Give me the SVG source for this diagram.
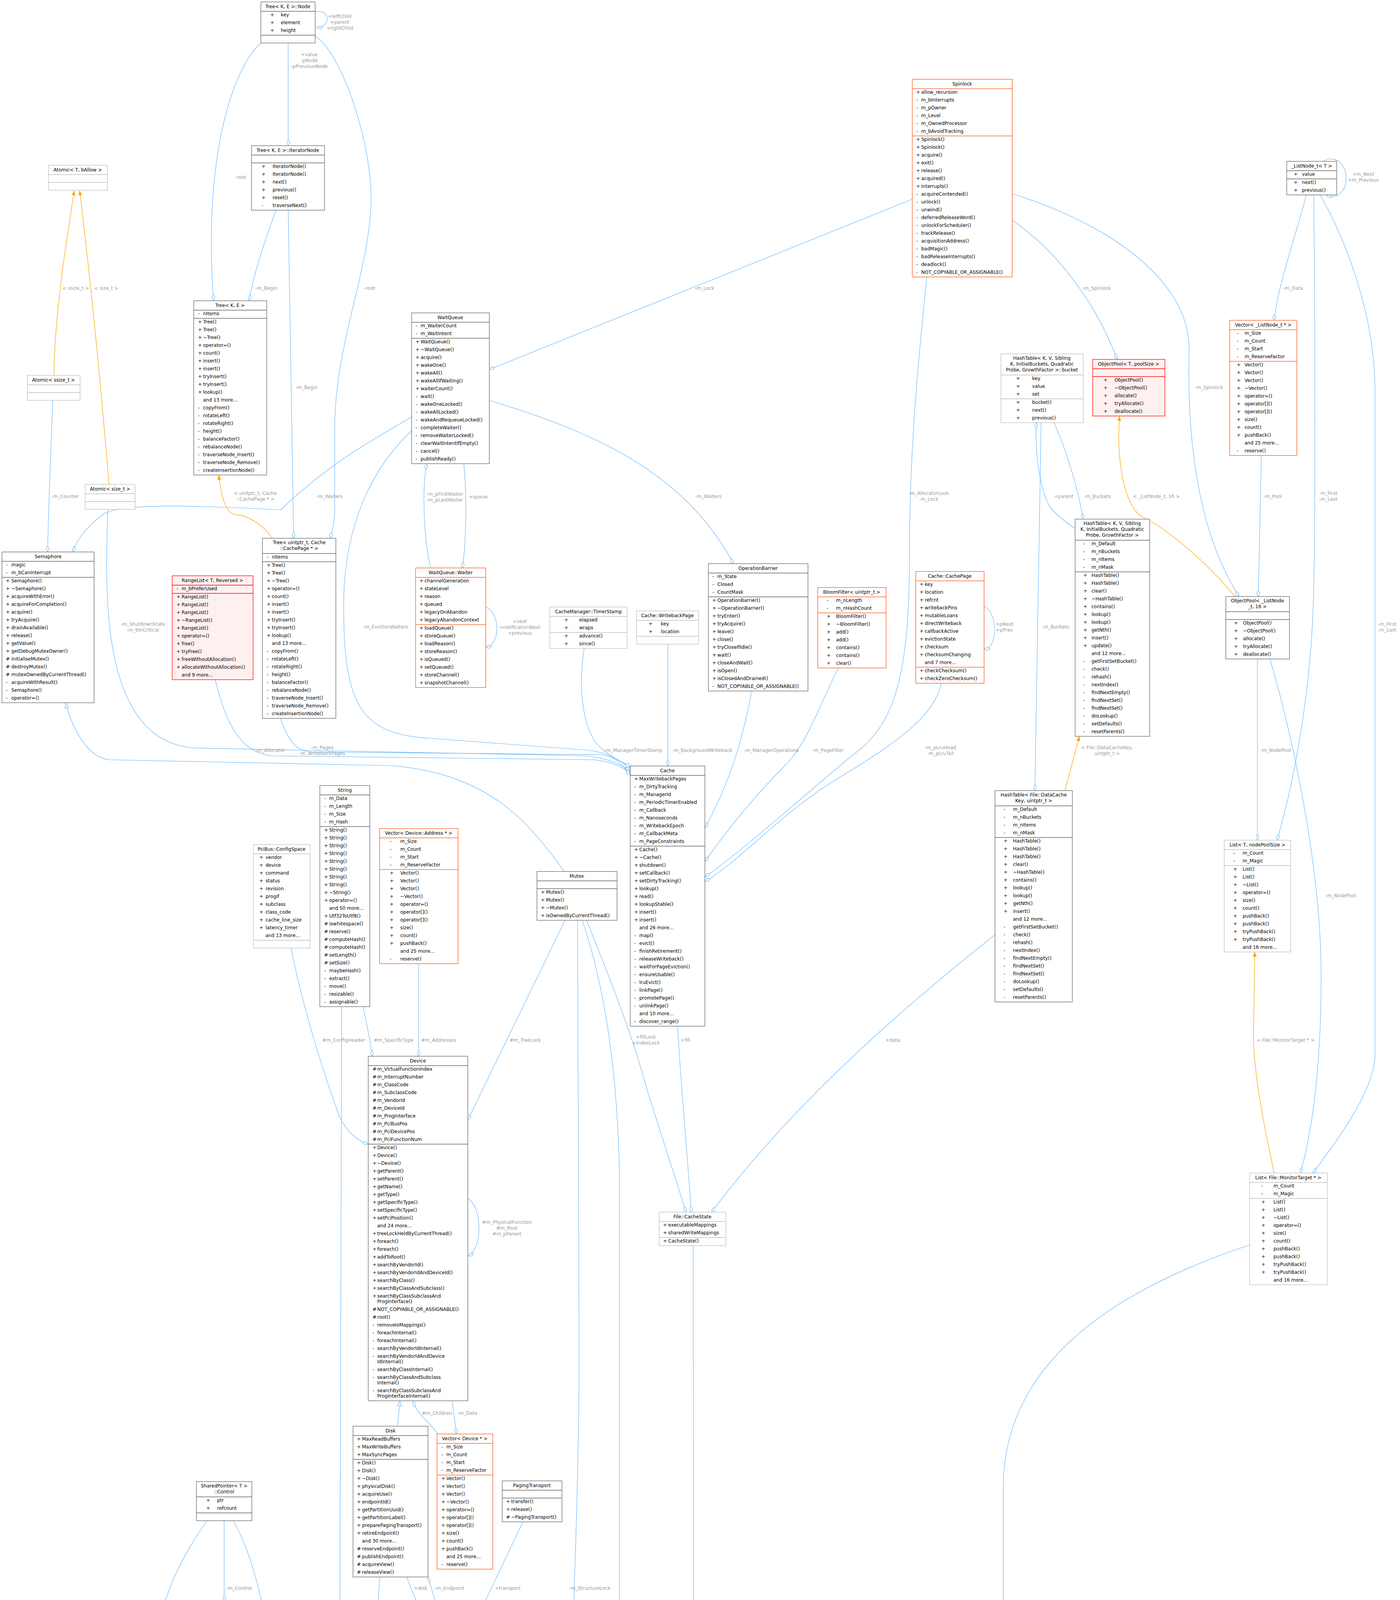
<svg xmlns="http://www.w3.org/2000/svg" width="3585" height="6939" viewBox="0 0 3585 6939">
<style>
text{font-family:"DejaVu Sans","Liberation Sans",sans-serif;font-size:12px;fill:#000}
.h{text-anchor:middle}
.l{text-anchor:middle;fill:#9a9a9a}
.bd{fill:#fff;stroke:#666;stroke-width:1.3}
.bl{fill:#fff;stroke:#bfbfbf;stroke-width:1.3}
.bo{fill:#fff;stroke:#ff6a33;stroke-width:1.5}
.br{fill:#fff0f0;stroke:#ff0000;stroke-width:1.3}
.bt{fill:#999;stroke:#666;stroke-width:1.3}
.e{fill:none;stroke:#63b8ff;stroke-width:1.2;marker-end:url(#dia)}
.i{fill:none;stroke:#63b8ff;stroke-width:1.2;marker-end:url(#otri)}
.o{fill:none;stroke:#ffa500;stroke-width:1.3;marker-end:url(#tri)}
</style>
<defs>
<marker id="dia" viewBox="0 0 16 9" refX="16" refY="4.5" markerWidth="16" markerHeight="9" markerUnits="userSpaceOnUse" orient="auto"><path d="M0.5,4.5 L8,0.5 L15.5,4.5 L8,8.5 Z" fill="#fff" stroke="#63b8ff" stroke-width="1.2"/></marker>
<marker id="tri" viewBox="0 0 12 10" refX="12" refY="5" markerWidth="12" markerHeight="10" markerUnits="userSpaceOnUse" orient="auto"><path d="M0,0 L12,5 L0,10 Z" fill="#ffa500"/></marker>
<marker id="otri" viewBox="0 0 14 12" refX="13" refY="6" markerWidth="14" markerHeight="12" markerUnits="userSpaceOnUse" orient="auto"><path d="M1,1 L13,6 L1,11 Z" fill="#fff" stroke="#63b8ff" stroke-width="1.2"/></marker>
</defs>
<rect width="3585" height="6939" fill="#fff"/>
<g id="edges">
<path class="e" d="M807,30 C845,22 850,68 811,71"/>
<path class="e" d="M738,110 L738,373"/>
<path class="e" d="M668,110 C590,180 520,420 547,770"/>
<path class="e" d="M707,538 C680,610 650,700 638,770"/>
<path class="e" d="M807,92 C880,140 955,380 950,520 C945,700 857,880 857,1100 L857,1300 C857,1340 850,1360 846,1378"/>
<path class="e" d="M738,538 L752,1378"/>
<path class="o" d="M138,961 C140,800 170,620 190,488"/>
<path class="o" d="M279,1240 C260,1000 230,700 204,488"/>
<path class="o" d="M697,1378 C680,1350 640,1320 605,1318 C575,1315 565,1260 560,1216"/>
<path class="e" d="M135,1025 C130,1150 124,1300 122,1413"/>
<path class="e" d="M1054,1067 C950,1130 850,1180 719,1305 C600,1300 300,1280 260,1320 C220,1350 195,1385 187,1413"/>
<path class="e" d="M276,1304 C270,1500 250,1900 500,1915 L1500,1935 C1560,1940 1590,1960 1614,1972"/>
<path class="e" d="M2336,510 L1253,946"/>
<path class="e" d="M1253,1025 C1500,1100 1750,1200 1878,1443"/>
<path class="e" d="M1103,1454 C1085,1380 1080,1250 1093,1187"/>
<path class="e" d="M1188,1187 C1195,1270 1195,1380 1184,1454"/>
<path class="e" d="M1244,1554 C1282,1570 1282,1650 1244,1657"/>
<path class="e" d="M1054,1103 C950,1200 880,1350 880,1550 C880,1800 920,1880 1100,1890 L1500,1920 C1560,1925 1590,1950 1614,1966"/>
<path class="e" d="M551,1740 C580,1860 620,1930 700,1935 L1520,1945 C1570,1950 1595,1965 1614,1978"/>
<path class="e" d="M718,1839 C740,1900 760,1925 800,1925 L1540,1932 C1585,1937 1600,1970 1614,1984"/>
<path class="i" d="M1445,2231 C1350,2100 1250,1980 1000,1960 L280,1945 C230,1940 190,1880 168,1800"/>
<path class="e" d="M1496,1660 C1480,1760 1490,1880 1545,1920 C1570,1940 1600,1955 1614,1962"/>
<path class="e" d="M1710,1649 L1710,1961"/>
<path class="e" d="M1925,1769 C1900,1900 1870,2000 1805,2120"/>
<path class="e" d="M2147,1710 C2100,1800 2070,1900 2010,1960 C1950,2020 1880,2100 1805,2205"/>
<path class="e" d="M2373,709 C2360,850 2330,1100 2329,1400 C2330,1700 2300,1840 2200,1920 C2100,2000 1900,2180 1805,2245"/>
<path class="e" d="M2410,1749 C2395,1830 2300,1900 2150,1990 C2000,2080 1900,2200 1805,2257"/>
<path class="e" d="M2520,1552 C2556,1570 2556,1660 2520,1662"/>
<path class="e" d="M1447,2356 L1198,2867"/>
<path class="e" d="M745,2427 C780,2600 840,2780 870,2860 C890,2900 915,2920 943,2929"/>
<path class="e" d="M930,2577 C940,2630 950,2670 953,2704"/>
<path class="e" d="M1072,2467 L1072,2704"/>
<path class="e" d="M875,2577 L867,5200 C867,5400 1000,5650 1213,5895"/>
<path class="e" d="M1198,3068 C1236,3090 1236,3200 1198,3215"/>
<path class="i" d="M1018,3651 L1024,3587"/>
<path class="e" d="M1121,3671 C1100,3640 1075,3630 1057,3587"/>
<path class="e" d="M1158,3587 L1169,3671"/>
<path class="e" d="M1042,4037 C1060,4090 1085,4140 1110,4182"/>
<path class="e" d="M1132,4162 C1120,4110 1105,4070 1096,4037"/>
<path class="e" d="M1339,3896 L1211,4165"/>
<path class="e" d="M1479,2356 L1483,3500 C1480,4000 1450,4500 1450,4650 C1440,4800 1410,4930 1391,4990"/>
<path class="e" d="M1491,2356 C1540,2500 1580,2700 1586,3000 L1586,5209 C1580,5400 1510,5600 1426,5797"/>
<path class="e" d="M1502,2356 C1560,2500 1620,2650 1660,2800 L1757,3103"/>
<path class="e" d="M1735,2627 C1745,2800 1760,2950 1770,3103"/>
<path class="e" d="M2548,2393 C2350,2550 2050,2800 1822,3103"/>
<path class="e" d="M1775,3189 L1778,5209 C1770,5450 1600,5700 1426,5891"/>
<path class="e" d="M973,4037 C962,4150 950,4500 1000,4700 C1060,4900 1150,5000 1247,5124"/>
<path class="e" d="M1173,4387 C1175,4450 1170,4500 1165,4544"/>
<path class="e" d="M1103,4544 C1100,4480 1110,4430 1121,4387"/>
<path class="e" d="M1211,4356 C1250,4420 1280,4500 1294,4574"/>
<path class="e" d="M1319,4799 L1319,4929"/>
<path class="e" d="M1319,5455 L1319,5517"/>
<path class="e" d="M574,3893 L574,4099"/>
<path class="e" d="M530,3893 C470,3980 395,4100 390,4300 C388,4420 390,4480 393,4507"/>
<path class="e" d="M597,3893 C660,4000 700,4200 725,4507"/>
<path class="o" d="M412,4507 C430,4460 470,4440 503,4402"/>
<path class="o" d="M633,4563 C610,4530 595,4490 586,4444"/>
<path class="e" d="M451,4867 L480,5089"/>
<path class="e" d="M724,4867 L726,5049"/>
<path class="i" d="M1213,5944 C1000,5750 800,5650 650,5500 C600,5440 560,5370 537,5294"/>
<path class="i" d="M1213,5912 C1100,5800 950,5650 880,5500 C840,5430 800,5380 777,5334"/>
<path class="e" d="M1426,5924 C1464,5950 1464,6070 1426,6091"/>
<path class="e" d="M3200,3187 C2800,3320 2569,3520 2569,3809 L2569,5202 C2569,5600 2100,5850 1426,5989"/>
<path class="e" d="M1319,6503 L1319,6595"/>
<path class="e" d="M1308,6681 C1300,6720 1310,6760 1323,6773"/>
<path class="e" d="M1411,6773 C1400,6740 1385,6710 1363,6681"/>
<path class="o" d="M1465,6773 L1490,6711"/>
<path class="e" d="M2753,1353 C2720,1330 2700,1312 2690,1300 C2660,1250 2650,1150 2654,1082"/>
<path class="e" d="M2699,1082 C2730,1150 2760,1250 2774,1329"/>
<path class="e" d="M2666,1082 L2650,2024"/>
<path class="o" d="M2727,2024 L2764,1885"/>
<path class="o" d="M3162,1527 C3100,1450 3000,1360 2920,1320 C2870,1280 2860,1150 2867,1065"/>
<path class="e" d="M2592,563 C2700,640 2800,760 2861,920"/>
<path class="e" d="M2592,496 C2800,560 3050,700 3045,900 C3040,1100 3060,1350 3173,1527"/>
<path class="e" d="M3345,499 C3320,600 3280,700 3262,820"/>
<path class="e" d="M3230,1166 L3222,1527"/>
<path class="e" d="M3220,1687 L3220,2151"/>
<path class="e" d="M3252,1687 C3300,1850 3383,2200 3383,2500 C3383,2800 3345,2950 3330,3003"/>
<path class="e" d="M3364,499 C3368,800 3368,1400 3364,1500 C3360,1800 3300,2050 3270,2151"/>
<path class="e" d="M3380,499 C3440,600 3521,800 3521,1000 L3521,2700 C3521,2800 3400,2950 3362,3003"/>
<path class="o" d="M3263,3003 C3240,2900 3210,2750 3210,2650 L3213,2437"/>
<path class="e" d="M3387,413 C3420,395 3447,420 3447,455 C3447,495 3420,510 3397,499"/>
</g>
<g id="labels">
<text class="l" x="870" y="46">+leftChild<tspan x="870" dy="15">+parent</tspan><tspan x="870" dy="15">+rightChild</tspan></text>
<text class="l" x="792" y="144">+value<tspan x="792" dy="15">-pNode</tspan><tspan x="792" dy="15">-pPreviousNode</tspan></text>
<text class="l" x="616" y="458">-root</text>
<text class="l" x="946" y="742">-root</text>
<text class="l" x="682" y="742">-m_Begin</text>
<text class="l" x="785" y="996">-m_Begin</text>
<text class="l" x="194" y="742">&lt; ssize_t &gt;</text>
<text class="l" x="272" y="742">&lt; size_t &gt;</text>
<text class="l" x="654" y="1267">&lt; uintptr_t, Cache<tspan x="654" dy="15">::CachePage * &gt;</tspan></text>
<text class="l" x="167" y="1275">-m_Counter</text>
<text class="l" x="844" y="1275">-m_Waiters</text>
<text class="l" x="1804" y="742">-m_Lock</text>
<text class="l" x="1814" y="1275">-m_Waiters</text>
<text class="l" x="1139" y="1269">-m_pFirstWaiter<tspan x="1139" dy="15">-m_pLastWaiter</tspan></text>
<text class="l" x="1225" y="1276">+queue</text>
<text class="l" x="1331" y="1595">+next<tspan x="1331" dy="15">+notificationNext</tspan><tspan x="1331" dy="15">+previous</tspan></text>
<text class="l" x="2378" y="1267">-m_AllocatorLock<tspan x="2378" dy="15">-m_Lock</tspan></text>
<text class="l" x="2808" y="742">-m_Spinlock</text>
<text class="l" x="3096" y="996">-m_Spinlock</text>
<text class="l" x="3311" y="742">-m_Data</text>
<text class="l" x="3491" y="450">+m_Next<tspan x="3491" dy="15">+m_Previous</tspan></text>
<text class="l" x="2724" y="1275">+parent</text>
<text class="l" x="2810" y="1275">-m_Buckets</text>
<text class="l" x="2961" y="1275">&lt; _ListNode_t, 16 &gt;</text>
<text class="l" x="3259" y="1275">-m_Pool</text>
<text class="l" x="3401" y="1267">-m_First<tspan x="3401" dy="15">-m_Last</tspan></text>
<text class="l" x="366" y="1602">-m_ShutdownState<tspan x="366" dy="15">-m_bInCritical</tspan></text>
<text class="l" x="987" y="1609">-m_EvictionWaiters</text>
<text class="l" x="692" y="1925">-m_Allocator</text>
<text class="l" x="825" y="1918">-m_Pages<tspan x="825" dy="15">-m_WritebackPages</tspan></text>
<text class="l" x="1622" y="1925">-m_ManagerTimerStamp</text>
<text class="l" x="1798" y="1925">-m_BackgroundWriteback</text>
<text class="l" x="1975" y="1925">-m_ManagerOperations</text>
<text class="l" x="2120" y="1925">-m_PageFilter</text>
<text class="l" x="2408" y="1918">-m_pLruHead<tspan x="2408" dy="15">-m_pLruTail</tspan></text>
<text class="l" x="2572" y="1602">+pNext<tspan x="2572" dy="15">+pPrev</tspan></text>
<text class="l" x="2703" y="1609">-m_Buckets</text>
<text class="l" x="2835" y="1918">&lt; File::DataCacheKey,<tspan x="2835" dy="15">uintptr_t &gt;</tspan></text>
<text class="l" x="3267" y="1925">-m_NodePool</text>
<text class="l" x="3433" y="2297">-m_NodePool</text>
<text class="l" x="3552" y="1602">-m_First<tspan x="3552" dy="15">-m_Last</tspan></text>
<text class="l" x="3292" y="2667">&lt; File::MonitorTarget * &gt;</text>
<text class="l" x="1345" y="2667">#m_TreeLock</text>
<text class="l" x="1654" y="2659">+fillLock<tspan x="1654" dy="15">+indexLock</tspan></text>
<text class="l" x="1755" y="2667">+fill</text>
<text class="l" x="2286" y="2667">+data</text>
<text class="l" x="880" y="2667">#m_ConfigHeader</text>
<text class="l" x="1008" y="2667">#m_SpecificType</text>
<text class="l" x="1123" y="2667">#m_Addresses</text>
<text class="l" x="1298" y="3133">#m_PhysicalFunction<tspan x="1298" dy="15">#m_Root</tspan><tspan x="1298" dy="15">#m_pParent</tspan></text>
<text class="l" x="1119" y="3622">#m_Children</text>
<text class="l" x="1197" y="3622">-m_Data</text>
<text class="l" x="1077" y="4070">+disk</text>
<text class="l" x="1151" y="4070">-m_Endpoint</text>
<text class="l" x="1300" y="4070">+transport</text>
<text class="l" x="1510" y="4070">-m_StructureLock</text>
<text class="l" x="612" y="4070">-m_Control</text>
<text class="l" x="451" y="4274">-m_Control</text>
<text class="l" x="761" y="4274">-m_Control</text>
<text class="l" x="907" y="4274">#m_Name</text>
<text class="l" x="1666" y="4252">#m_DataMutationLock<tspan x="1666" dy="15">#m_Lock</tspan><tspan x="1666" dy="15">#m_MetadataLock</tspan><tspan x="1666" dy="15">#m_WriteLock</tspan></text>
<text class="l" x="496" y="4477">&lt; ReadinessState &gt;</text>
<text class="l" x="660" y="4477">&lt; FileEventState &gt;</text>
<text class="l" x="1005" y="4477">#m_pDisk</text>
<text class="l" x="1140" y="4477">+channel</text>
<text class="l" x="1222" y="4477">-m_Endpoint</text>
<text class="l" x="1315" y="4477">-m_Endpoint</text>
<text class="l" x="1836" y="4478">#m_CacheState</text>
<text class="l" x="2632" y="4478">#m_MonitorTargets</text>
<text class="l" x="523" y="4900">-m_ReadinessState</text>
<text class="l" x="788" y="4900">-m_FileEventState</text>
<text class="l" x="1365" y="4900">#m_DiskUse</text>
<text class="l" x="1378" y="5488">#m_pFilesystem</text>
<text class="l" x="1525" y="6004">#m_pDetachedParent<tspan x="1525" dy="15">#m_pParent</tspan></text>
<text class="l" x="1338" y="6536">+file</text>
<text class="l" x="1354" y="6744">-m_Pointer</text>
<text class="l" x="1426" y="6744">+next</text>
<text class="l" x="1551" y="6744">&lt; VFS::TrackedFile &gt;</text>
</g>
<g id="n-tree-node"><rect class="bd" x="668" y="5" width="139" height="105"/><path class="bd" d="M668,29H807M668,90H807"/><text class="h" x="737" y="21">Tree&lt; K, E &gt;::Node</text>
<text><tspan x="692" y="42">+</tspan><tspan x="719">key</tspan><tspan x="692" y="62">+</tspan><tspan x="719">element</tspan><tspan x="692" y="82">+</tspan><tspan x="719">height</tspan></text></g>
<g id="n-tree-iter"><rect class="bd" x="644" y="373" width="187" height="165"/><path class="bd" d="M644,397H831M644,417H831"/><text class="h" x="737" y="389">Tree&lt; K, E &gt;::IteratorNode</text>
<text><tspan x="670" y="430">+</tspan><tspan x="698">IteratorNode()</tspan><tspan x="670" y="450">+</tspan><tspan x="698">IteratorNode()</tspan><tspan x="670" y="470">+</tspan><tspan x="698">next()</tspan><tspan x="670" y="490">+</tspan><tspan x="698">previous()</tspan><tspan x="670" y="510">+</tspan><tspan x="698">reset()</tspan><tspan x="670" y="530">-</tspan><tspan x="698">traverseNext()</tspan></text></g>
<g id="n-atomic"><rect class="bl" x="124" y="423" width="151" height="64"/><path class="bl" d="M124,447H275M124,467H275"/><text class="h" x="199" y="439">Atomic&lt; T, bAllow &gt;</text></g>
<g id="n-atomic-ssize"><rect class="bl" x="70" y="961" width="135" height="64"/><path class="bl" d="M70,985H205M70,1005H205"/><text class="h" x="137" y="977">Atomic&lt; ssize_t &gt;</text></g>
<g id="n-atomic-size"><rect class="bl" x="218" y="1240" width="128" height="64"/><path class="bl" d="M218,1264H346M218,1284H346"/><text class="h" x="282" y="1256">Atomic&lt; size_t &gt;</text></g>
<g id="n-tree"><rect class="bd" x="496" y="770" width="187" height="446"/><path class="bd" d="M496,794H683M496,815H683"/><text class="h" x="589" y="786">Tree&lt; K, E &gt;</text>
<text><tspan x="507" y="807">-</tspan><tspan x="520">nItems</tspan><tspan x="507" y="828">+</tspan><tspan x="520">Tree()</tspan><tspan x="507" y="848">+</tspan><tspan x="520">Tree()</tspan><tspan x="507" y="868">+</tspan><tspan x="520">~Tree()</tspan><tspan x="507" y="888">+</tspan><tspan x="520">operator=()</tspan><tspan x="507" y="908">+</tspan><tspan x="520">count()</tspan><tspan x="507" y="928">+</tspan><tspan x="520">insert()</tspan><tspan x="507" y="948">+</tspan><tspan x="520">insert()</tspan><tspan x="507" y="968">+</tspan><tspan x="520">tryInsert()</tspan><tspan x="507" y="988">+</tspan><tspan x="520">tryInsert()</tspan><tspan x="507" y="1008">+</tspan><tspan x="520">lookup()</tspan><tspan x="520" y="1028">and 13 more...</tspan><tspan x="507" y="1048">-</tspan><tspan x="520">copyFrom()</tspan><tspan x="507" y="1068">-</tspan><tspan x="520">rotateLeft()</tspan><tspan x="507" y="1088">-</tspan><tspan x="520">rotateRight()</tspan><tspan x="507" y="1108">-</tspan><tspan x="520">height()</tspan><tspan x="507" y="1128">-</tspan><tspan x="520">balanceFactor()</tspan><tspan x="507" y="1148">-</tspan><tspan x="520">rebalanceNode()</tspan><tspan x="507" y="1168">-</tspan><tspan x="520">traverseNode_Insert()</tspan><tspan x="507" y="1188">-</tspan><tspan x="520">traverseNode_Remove()</tspan><tspan x="507" y="1208">-</tspan><tspan x="520">createInsertionNode()</tspan></text></g>
<g id="n-tree-cache"><rect class="bd" x="672" y="1378" width="188" height="461"/><path class="bd" d="M672,1417H860M672,1438H860"/><text class="h" x="766" y="1393">Tree&lt; uintptr_t, Cache<tspan x="766" dy="15">::CachePage * &gt;</tspan></text>
<text><tspan x="683" y="1430">-</tspan><tspan x="696">nItems</tspan><tspan x="683" y="1451">+</tspan><tspan x="696">Tree()</tspan><tspan x="683" y="1471">+</tspan><tspan x="696">Tree()</tspan><tspan x="683" y="1491">+</tspan><tspan x="696">~Tree()</tspan><tspan x="683" y="1511">+</tspan><tspan x="696">operator=()</tspan><tspan x="683" y="1531">+</tspan><tspan x="696">count()</tspan><tspan x="683" y="1551">+</tspan><tspan x="696">insert()</tspan><tspan x="683" y="1571">+</tspan><tspan x="696">insert()</tspan><tspan x="683" y="1591">+</tspan><tspan x="696">tryInsert()</tspan><tspan x="683" y="1611">+</tspan><tspan x="696">tryInsert()</tspan><tspan x="683" y="1631">+</tspan><tspan x="696">lookup()</tspan><tspan x="696" y="1651">and 13 more...</tspan><tspan x="683" y="1671">-</tspan><tspan x="696">copyFrom()</tspan><tspan x="683" y="1691">-</tspan><tspan x="696">rotateLeft()</tspan><tspan x="683" y="1711">-</tspan><tspan x="696">rotateRight()</tspan><tspan x="683" y="1731">-</tspan><tspan x="696">height()</tspan><tspan x="683" y="1751">-</tspan><tspan x="696">balanceFactor()</tspan><tspan x="683" y="1771">-</tspan><tspan x="696">rebalanceNode()</tspan><tspan x="683" y="1791">-</tspan><tspan x="696">traverseNode_Insert()</tspan><tspan x="683" y="1811">-</tspan><tspan x="696">traverseNode_Remove()</tspan><tspan x="683" y="1831">-</tspan><tspan x="696">createInsertionNode()</tspan></text></g>
<g id="n-waitqueue"><rect class="bd" x="1054" y="801" width="199" height="386"/><path class="bd" d="M1054,825H1253M1054,866H1253"/><text class="h" x="1153" y="817">WaitQueue</text>
<text><tspan x="1064" y="838">-</tspan><tspan x="1077">m_WaiterCount</tspan><tspan x="1064" y="858">-</tspan><tspan x="1077">m_WaitIntent</tspan><tspan x="1064" y="879">+</tspan><tspan x="1077">WaitQueue()</tspan><tspan x="1064" y="899">+</tspan><tspan x="1077">~WaitQueue()</tspan><tspan x="1064" y="919">+</tspan><tspan x="1077">acquire()</tspan><tspan x="1064" y="939">+</tspan><tspan x="1077">wakeOne()</tspan><tspan x="1064" y="959">+</tspan><tspan x="1077">wakeAll()</tspan><tspan x="1064" y="979">+</tspan><tspan x="1077">wakeAllIfWaiting()</tspan><tspan x="1064" y="999">+</tspan><tspan x="1077">waiterCount()</tspan><tspan x="1064" y="1019">-</tspan><tspan x="1077">wait()</tspan><tspan x="1064" y="1039">-</tspan><tspan x="1077">wakeOneLocked()</tspan><tspan x="1064" y="1059">-</tspan><tspan x="1077">wakeAllLocked()</tspan><tspan x="1064" y="1079">-</tspan><tspan x="1077">wakeAndRequeueLocked()</tspan><tspan x="1064" y="1099">-</tspan><tspan x="1077">completeWaiter()</tspan><tspan x="1064" y="1119">-</tspan><tspan x="1077">removeWaiterLocked()</tspan><tspan x="1064" y="1139">-</tspan><tspan x="1077">clearWaitIntentIfEmpty()</tspan><tspan x="1064" y="1159">-</tspan><tspan x="1077">cancel()</tspan><tspan x="1064" y="1179">-</tspan><tspan x="1077">publishReady()</tspan></text></g>
<g id="n-spinlock"><rect class="bo" x="2336" y="203" width="256" height="506"/><path class="bo" d="M2336,227H2592M2336,348H2592"/><text class="h" x="2464" y="219">Spinlock</text>
<text><tspan x="2346" y="240">+</tspan><tspan x="2359">allow_recursion</tspan><tspan x="2346" y="260">-</tspan><tspan x="2359">m_bInterrupts</tspan><tspan x="2346" y="280">-</tspan><tspan x="2359">m_pOwner</tspan><tspan x="2346" y="300">-</tspan><tspan x="2359">m_Level</tspan><tspan x="2346" y="320">-</tspan><tspan x="2359">m_OwnedProcessor</tspan><tspan x="2346" y="340">-</tspan><tspan x="2359">m_bAvoidTracking</tspan><tspan x="2346" y="361">+</tspan><tspan x="2359">Spinlock()</tspan><tspan x="2346" y="381">+</tspan><tspan x="2359">Spinlock()</tspan><tspan x="2346" y="401">+</tspan><tspan x="2359">acquire()</tspan><tspan x="2346" y="421">+</tspan><tspan x="2359">exit()</tspan><tspan x="2346" y="441">+</tspan><tspan x="2359">release()</tspan><tspan x="2346" y="461">+</tspan><tspan x="2359">acquired()</tspan><tspan x="2346" y="481">+</tspan><tspan x="2359">interrupts()</tspan><tspan x="2346" y="501">-</tspan><tspan x="2359">acquireContended()</tspan><tspan x="2346" y="521">-</tspan><tspan x="2359">unlock()</tspan><tspan x="2346" y="541">-</tspan><tspan x="2359">unwind()</tspan><tspan x="2346" y="561">-</tspan><tspan x="2359">deferredReleaseWord()</tspan><tspan x="2346" y="581">-</tspan><tspan x="2359">unlockForScheduler()</tspan><tspan x="2346" y="601">-</tspan><tspan x="2359">trackRelease()</tspan><tspan x="2346" y="621">-</tspan><tspan x="2359">acquisitionAddress()</tspan><tspan x="2346" y="641">-</tspan><tspan x="2359">badMagic()</tspan><tspan x="2346" y="661">-</tspan><tspan x="2359">badReleaseInterrupts()</tspan><tspan x="2346" y="681">-</tspan><tspan x="2359">deadlock()</tspan><tspan x="2346" y="701">-</tspan><tspan x="2359">NOT_COPYABLE_OR_ASSIGNABLE()</tspan></text></g>
<g id="n-listnode"><rect class="bd" x="3295" y="413" width="128" height="86"/><path class="bd" d="M3295,437H3423M3295,458H3423"/><text class="h" x="3359" y="429">_ListNode_t&lt; T &gt;</text>
<text><tspan x="3313" y="450">+</tspan><tspan x="3334">value</tspan><tspan x="3313" y="471">+</tspan><tspan x="3334">next()</tspan><tspan x="3313" y="491">+</tspan><tspan x="3334">previous()</tspan></text></g>
<g id="n-vector-listnode"><rect class="bo" x="3149" y="820" width="172" height="346"/><path class="bo" d="M3149,844H3321M3149,925H3321"/><text class="h" x="3235" y="836">Vector&lt; _ListNode_t * &gt;</text>
<text><tspan x="3167" y="857">-</tspan><tspan x="3187">m_Size</tspan><tspan x="3167" y="877">-</tspan><tspan x="3187">m_Count</tspan><tspan x="3167" y="897">-</tspan><tspan x="3187">m_Start</tspan><tspan x="3167" y="917">-</tspan><tspan x="3187">m_ReserveFactor</tspan><tspan x="3167" y="938">+</tspan><tspan x="3187">Vector()</tspan><tspan x="3167" y="958">+</tspan><tspan x="3187">Vector()</tspan><tspan x="3167" y="978">+</tspan><tspan x="3187">Vector()</tspan><tspan x="3167" y="998">+</tspan><tspan x="3187">~Vector()</tspan><tspan x="3167" y="1018">+</tspan><tspan x="3187">operator=()</tspan><tspan x="3167" y="1038">+</tspan><tspan x="3187">operator[]()</tspan><tspan x="3167" y="1058">+</tspan><tspan x="3187">operator[]()</tspan><tspan x="3167" y="1078">+</tspan><tspan x="3187">size()</tspan><tspan x="3167" y="1098">+</tspan><tspan x="3187">count()</tspan><tspan x="3167" y="1118">+</tspan><tspan x="3187">pushBack()</tspan><tspan x="3187" y="1138">and 25 more...</tspan><tspan x="3167" y="1158">-</tspan><tspan x="3187">reserve()</tspan></text></g>
<g id="n-bucket"><rect class="bl" x="2563" y="906" width="211" height="176"/><path class="bl" d="M2563,960H2774M2563,1021H2774"/><text class="h" x="2668" y="921">HashTable&lt; K, V, Sibling<tspan x="2668" dy="15">K, InitialBuckets, Quadratic</tspan><tspan x="2668" dy="15">Probe, GrowthFactor &gt;::bucket</tspan></text>
<text><tspan x="2602" y="973">+</tspan><tspan x="2643">key</tspan><tspan x="2602" y="993">+</tspan><tspan x="2643">value</tspan><tspan x="2602" y="1013">+</tspan><tspan x="2643">set</tspan><tspan x="2602" y="1034">+</tspan><tspan x="2643">bucket()</tspan><tspan x="2602" y="1054">+</tspan><tspan x="2643">next()</tspan><tspan x="2602" y="1074">+</tspan><tspan x="2643">previous()</tspan></text></g>
<g id="n-objectpool"><rect class="br" x="2798" y="920" width="185" height="145"/><path class="br" d="M2798,944H2983M2798,964H2983"/><text class="h" x="2890" y="936">ObjectPool&lt; T, poolSize &gt;</text>
<text><tspan x="2826" y="977">+</tspan><tspan x="2854">ObjectPool()</tspan><tspan x="2826" y="997">+</tspan><tspan x="2854">~ObjectPool()</tspan><tspan x="2826" y="1017">+</tspan><tspan x="2854">allocate()</tspan><tspan x="2826" y="1037">+</tspan><tspan x="2854">tryAllocate()</tspan><tspan x="2826" y="1057">+</tspan><tspan x="2854">deallocate()</tspan></text></g>
<g id="n-hashtable"><rect class="bd" x="2753" y="1329" width="191" height="556"/><path class="bd" d="M2753,1383H2944M2753,1464H2944"/><text class="h" x="2848" y="1344">HashTable&lt; K, V, Sibling<tspan x="2848" dy="15">K, InitialBuckets, Quadratic</tspan><tspan x="2848" dy="15">Probe, GrowthFactor &gt;</tspan></text>
<text><tspan x="2774" y="1396">-</tspan><tspan x="2795">m_Default</tspan><tspan x="2774" y="1416">-</tspan><tspan x="2795">m_nBuckets</tspan><tspan x="2774" y="1436">-</tspan><tspan x="2795">m_nItems</tspan><tspan x="2774" y="1456">-</tspan><tspan x="2795">m_nMask</tspan><tspan x="2774" y="1477">+</tspan><tspan x="2795">HashTable()</tspan><tspan x="2774" y="1497">+</tspan><tspan x="2795">HashTable()</tspan><tspan x="2774" y="1517">+</tspan><tspan x="2795">clear()</tspan><tspan x="2774" y="1537">+</tspan><tspan x="2795">~HashTable()</tspan><tspan x="2774" y="1557">+</tspan><tspan x="2795">contains()</tspan><tspan x="2774" y="1577">+</tspan><tspan x="2795">lookup()</tspan><tspan x="2774" y="1597">+</tspan><tspan x="2795">lookup()</tspan><tspan x="2774" y="1617">+</tspan><tspan x="2795">getNth()</tspan><tspan x="2774" y="1637">+</tspan><tspan x="2795">insert()</tspan><tspan x="2774" y="1657">+</tspan><tspan x="2795">update()</tspan><tspan x="2795" y="1677">and 12 more...</tspan><tspan x="2774" y="1697">-</tspan><tspan x="2795">getFirstSetBucket()</tspan><tspan x="2774" y="1717">-</tspan><tspan x="2795">check()</tspan><tspan x="2774" y="1737">-</tspan><tspan x="2795">rehash()</tspan><tspan x="2774" y="1757">-</tspan><tspan x="2795">nextIndex()</tspan><tspan x="2774" y="1777">-</tspan><tspan x="2795">findNextEmpty()</tspan><tspan x="2774" y="1797">-</tspan><tspan x="2795">findNextSet()</tspan><tspan x="2774" y="1817">-</tspan><tspan x="2795">findNextSet()</tspan><tspan x="2774" y="1837">-</tspan><tspan x="2795">doLookup()</tspan><tspan x="2774" y="1857">-</tspan><tspan x="2795">setDefaults()</tspan><tspan x="2774" y="1877">-</tspan><tspan x="2795">resetParents()</tspan></text></g>
<g id="n-semaphore"><rect class="bd" x="5" y="1413" width="236" height="386"/><path class="bd" d="M5,1437H241M5,1478H241"/><text class="h" x="123" y="1429">Semaphore</text>
<text><tspan x="15" y="1450">-</tspan><tspan x="29">magic</tspan><tspan x="15" y="1470">-</tspan><tspan x="29">m_bCanInterrupt</tspan><tspan x="15" y="1491">+</tspan><tspan x="29">Semaphore()</tspan><tspan x="15" y="1511">+</tspan><tspan x="29">~Semaphore()</tspan><tspan x="15" y="1531">+</tspan><tspan x="29">acquireWithError()</tspan><tspan x="15" y="1551">+</tspan><tspan x="29">acquireForCompletion()</tspan><tspan x="15" y="1571">+</tspan><tspan x="29">acquire()</tspan><tspan x="15" y="1591">+</tspan><tspan x="29">tryAcquire()</tspan><tspan x="15" y="1611">+</tspan><tspan x="29">drainAvailable()</tspan><tspan x="15" y="1631">+</tspan><tspan x="29">release()</tspan><tspan x="15" y="1651">+</tspan><tspan x="29">getValue()</tspan><tspan x="15" y="1671">+</tspan><tspan x="29">getDebugMutexOwner()</tspan><tspan x="15" y="1691">#</tspan><tspan x="29">initialiseMutex()</tspan><tspan x="15" y="1711">#</tspan><tspan x="29">destroyMutex()</tspan><tspan x="15" y="1731">#</tspan><tspan x="29">mutexOwnedByCurrentThread()</tspan><tspan x="15" y="1751">-</tspan><tspan x="29">acquireWithResult()</tspan><tspan x="15" y="1771">-</tspan><tspan x="29">Semaphore()</tspan><tspan x="15" y="1791">-</tspan><tspan x="29">operator=()</tspan></text></g>
<g id="n-rangelist"><rect class="br" x="441" y="1474" width="207" height="266"/><path class="br" d="M441,1498H648M441,1519H648"/><text class="h" x="544" y="1490">RangeList&lt; T, Reversed &gt;</text>
<text><tspan x="452" y="1511">-</tspan><tspan x="465">m_bPreferUsed</tspan><tspan x="452" y="1532">+</tspan><tspan x="465">RangeList()</tspan><tspan x="452" y="1552">+</tspan><tspan x="465">RangeList()</tspan><tspan x="452" y="1572">+</tspan><tspan x="465">RangeList()</tspan><tspan x="452" y="1592">+</tspan><tspan x="465">~RangeList()</tspan><tspan x="452" y="1612">+</tspan><tspan x="465">RangeList()</tspan><tspan x="452" y="1632">+</tspan><tspan x="465">operator=()</tspan><tspan x="452" y="1652">+</tspan><tspan x="465">free()</tspan><tspan x="452" y="1672">+</tspan><tspan x="465">tryFree()</tspan><tspan x="452" y="1692">+</tspan><tspan x="465">freeWithoutAllocation()</tspan><tspan x="452" y="1712">+</tspan><tspan x="465">allocateWithoutAllocation()</tspan><tspan x="465" y="1732">and 9 more...</tspan></text></g>
<g id="n-waiter"><rect class="bo" x="1064" y="1454" width="180" height="306"/><path class="bo" d="M1064,1478H1244M1064,1599H1244"/><text class="h" x="1154" y="1470">WaitQueue::Waiter</text>
<text><tspan x="1074" y="1491">+</tspan><tspan x="1087">channelGeneration</tspan><tspan x="1074" y="1511">+</tspan><tspan x="1087">stateLevel</tspan><tspan x="1074" y="1531">+</tspan><tspan x="1087">reason</tspan><tspan x="1074" y="1551">+</tspan><tspan x="1087">queued</tspan><tspan x="1074" y="1571">+</tspan><tspan x="1087">legacyOnAbandon</tspan><tspan x="1074" y="1591">+</tspan><tspan x="1087">legacyAbandonContext</tspan><tspan x="1074" y="1612">+</tspan><tspan x="1087">loadQueue()</tspan><tspan x="1074" y="1632">+</tspan><tspan x="1087">storeQueue()</tspan><tspan x="1074" y="1652">+</tspan><tspan x="1087">loadReason()</tspan><tspan x="1074" y="1672">+</tspan><tspan x="1087">storeReason()</tspan><tspan x="1074" y="1692">+</tspan><tspan x="1087">isQueued()</tspan><tspan x="1074" y="1712">+</tspan><tspan x="1087">setQueued()</tspan><tspan x="1074" y="1732">+</tspan><tspan x="1087">storeChannel()</tspan><tspan x="1074" y="1752">+</tspan><tspan x="1087">snapshotChannel()</tspan></text></g>
<g id="n-timerstamp"><rect class="bl" x="1408" y="1554" width="198" height="106"/><path class="bl" d="M1408,1578H1606M1408,1619H1606"/><text class="h" x="1507" y="1570">CacheManager::TimerStamp</text>
<text><tspan x="1445" y="1591">+</tspan><tspan x="1483">elapsed</tspan><tspan x="1445" y="1611">+</tspan><tspan x="1483">wraps</tspan><tspan x="1445" y="1632">+</tspan><tspan x="1483">advance()</tspan><tspan x="1445" y="1652">+</tspan><tspan x="1483">since()</tspan></text></g>
<g id="n-writebackpage"><rect class="bl" x="1630" y="1564" width="159" height="85"/><path class="bl" d="M1630,1588H1789M1630,1629H1789"/><text class="h" x="1709" y="1580">Cache::WritebackPage</text>
<text><tspan x="1661" y="1601">+</tspan><tspan x="1692">key</tspan><tspan x="1661" y="1621">+</tspan><tspan x="1692">location</tspan></text></g>
<g id="n-operationbarrier"><rect class="bd" x="1814" y="1443" width="255" height="326"/><path class="bd" d="M1814,1467H2069M1814,1528H2069"/><text class="h" x="1941" y="1459">OperationBarrier</text>
<text><tspan x="1824" y="1480">-</tspan><tspan x="1837">m_State</tspan><tspan x="1824" y="1500">-</tspan><tspan x="1837">Closed</tspan><tspan x="1824" y="1520">-</tspan><tspan x="1837">CountMask</tspan><tspan x="1824" y="1541">+</tspan><tspan x="1837">OperationBarrier()</tspan><tspan x="1824" y="1561">+</tspan><tspan x="1837">~OperationBarrier()</tspan><tspan x="1824" y="1581">+</tspan><tspan x="1837">tryEnter()</tspan><tspan x="1824" y="1601">+</tspan><tspan x="1837">tryAcquire()</tspan><tspan x="1824" y="1621">+</tspan><tspan x="1837">leave()</tspan><tspan x="1824" y="1641">+</tspan><tspan x="1837">close()</tspan><tspan x="1824" y="1661">+</tspan><tspan x="1837">tryCloseIfIdle()</tspan><tspan x="1824" y="1681">+</tspan><tspan x="1837">wait()</tspan><tspan x="1824" y="1701">+</tspan><tspan x="1837">closeAndWait()</tspan><tspan x="1824" y="1721">+</tspan><tspan x="1837">isOpen()</tspan><tspan x="1824" y="1741">+</tspan><tspan x="1837">isClosedAndDrained()</tspan><tspan x="1824" y="1761">-</tspan><tspan x="1837">NOT_COPYABLE_OR_ASSIGNABLE()</tspan></text></g>
<g id="n-bloomfilter"><rect class="bo" x="2094" y="1504" width="175" height="206"/><path class="bo" d="M2094,1528H2269M2094,1569H2269"/><text class="h" x="2181" y="1520">BloomFilter&lt; uintptr_t &gt;</text>
<text><tspan x="2117" y="1541">-</tspan><tspan x="2141">m_nLength</tspan><tspan x="2117" y="1561">-</tspan><tspan x="2141">m_nHashCount</tspan><tspan x="2117" y="1582">+</tspan><tspan x="2141">BloomFilter()</tspan><tspan x="2117" y="1602">+</tspan><tspan x="2141">~BloomFilter()</tspan><tspan x="2117" y="1622">+</tspan><tspan x="2141">add()</tspan><tspan x="2117" y="1642">+</tspan><tspan x="2141">add()</tspan><tspan x="2117" y="1662">+</tspan><tspan x="2141">contains()</tspan><tspan x="2117" y="1682">+</tspan><tspan x="2141">contains()</tspan><tspan x="2117" y="1702">+</tspan><tspan x="2141">clear()</tspan></text></g>
<g id="n-cachepage"><rect class="bo" x="2345" y="1463" width="175" height="286"/><path class="bo" d="M2345,1487H2520M2345,1708H2520"/><text class="h" x="2432" y="1479">Cache::CachePage</text>
<text><tspan x="2355" y="1500">+</tspan><tspan x="2368">key</tspan><tspan x="2355" y="1520">+</tspan><tspan x="2368">location</tspan><tspan x="2355" y="1540">+</tspan><tspan x="2368">refcnt</tspan><tspan x="2355" y="1560">+</tspan><tspan x="2368">writebackPins</tspan><tspan x="2355" y="1580">+</tspan><tspan x="2368">mutableLoans</tspan><tspan x="2355" y="1600">+</tspan><tspan x="2368">directWriteback</tspan><tspan x="2355" y="1620">+</tspan><tspan x="2368">callbackActive</tspan><tspan x="2355" y="1640">+</tspan><tspan x="2368">evictionState</tspan><tspan x="2355" y="1660">+</tspan><tspan x="2368">checksum</tspan><tspan x="2355" y="1680">+</tspan><tspan x="2368">checksumChanging</tspan><tspan x="2368" y="1700">and 7 more...</tspan><tspan x="2355" y="1721">+</tspan><tspan x="2368">checkChecksum()</tspan><tspan x="2355" y="1741">+</tspan><tspan x="2368">checkZeroChecksum()</tspan></text></g>
<g id="n-cache"><rect class="bd" x="1614" y="1961" width="191" height="666"/><path class="bd" d="M1614,1985H1805M1614,2166H1805"/><text class="h" x="1709" y="1977">Cache</text>
<text><tspan x="1624" y="1998">+</tspan><tspan x="1637">MaxWritebackPages</tspan><tspan x="1624" y="2018">-</tspan><tspan x="1637">m_DirtyTracking</tspan><tspan x="1624" y="2038">-</tspan><tspan x="1637">m_ManagerId</tspan><tspan x="1624" y="2058">-</tspan><tspan x="1637">m_PeriodicTimerEnabled</tspan><tspan x="1624" y="2078">-</tspan><tspan x="1637">m_Callback</tspan><tspan x="1624" y="2098">-</tspan><tspan x="1637">m_Nanoseconds</tspan><tspan x="1624" y="2118">-</tspan><tspan x="1637">m_WritebackEpoch</tspan><tspan x="1624" y="2138">-</tspan><tspan x="1637">m_CallbackMeta</tspan><tspan x="1624" y="2158">-</tspan><tspan x="1637">m_PageConstraints</tspan><tspan x="1624" y="2179">+</tspan><tspan x="1637">Cache()</tspan><tspan x="1624" y="2199">+</tspan><tspan x="1637">~Cache()</tspan><tspan x="1624" y="2219">+</tspan><tspan x="1637">shutdown()</tspan><tspan x="1624" y="2239">+</tspan><tspan x="1637">setCallback()</tspan><tspan x="1624" y="2259">+</tspan><tspan x="1637">setDirtyTracking()</tspan><tspan x="1624" y="2279">+</tspan><tspan x="1637">lookup()</tspan><tspan x="1624" y="2299">+</tspan><tspan x="1637">read()</tspan><tspan x="1624" y="2319">+</tspan><tspan x="1637">lookupStable()</tspan><tspan x="1624" y="2339">+</tspan><tspan x="1637">insert()</tspan><tspan x="1624" y="2359">+</tspan><tspan x="1637">insert()</tspan><tspan x="1637" y="2379">and 26 more...</tspan><tspan x="1624" y="2399">-</tspan><tspan x="1637">map()</tspan><tspan x="1624" y="2419">-</tspan><tspan x="1637">evict()</tspan><tspan x="1624" y="2439">-</tspan><tspan x="1637">finishRetirement()</tspan><tspan x="1624" y="2459">-</tspan><tspan x="1637">releaseWriteback()</tspan><tspan x="1624" y="2479">-</tspan><tspan x="1637">waitForPageEviction()</tspan><tspan x="1624" y="2499">-</tspan><tspan x="1637">ensureUsable()</tspan><tspan x="1624" y="2519">-</tspan><tspan x="1637">lruEvict()</tspan><tspan x="1624" y="2539">-</tspan><tspan x="1637">linkPage()</tspan><tspan x="1624" y="2559">-</tspan><tspan x="1637">promotePage()</tspan><tspan x="1624" y="2579">-</tspan><tspan x="1637">unlinkPage()</tspan><tspan x="1637" y="2599">and 10 more...</tspan><tspan x="1624" y="2619">-</tspan><tspan x="1637">discover_range()</tspan></text></g>
<g id="n-mutex"><rect class="bd" x="1375" y="2231" width="205" height="125"/><path class="bd" d="M1375,2255H1580M1375,2275H1580"/><text class="h" x="1477" y="2247">Mutex</text>
<text><tspan x="1385" y="2288">+</tspan><tspan x="1398">Mutex()</tspan><tspan x="1385" y="2308">+</tspan><tspan x="1398">Mutex()</tspan><tspan x="1385" y="2328">+</tspan><tspan x="1398">~Mutex()</tspan><tspan x="1385" y="2348">+</tspan><tspan x="1398">isOwnedByCurrentThread()</tspan></text></g>
<g id="n-hashtable-dck"><rect class="bd" x="2548" y="2024" width="198" height="541"/><path class="bd" d="M2548,2063H2746M2548,2144H2746"/><text class="h" x="2647" y="2039">HashTable&lt; File::DataCache<tspan x="2647" dy="15">Key, uintptr_t &gt;</tspan></text>
<text><tspan x="2570" y="2076">-</tspan><tspan x="2594">m_Default</tspan><tspan x="2570" y="2096">-</tspan><tspan x="2594">m_nBuckets</tspan><tspan x="2570" y="2116">-</tspan><tspan x="2594">m_nItems</tspan><tspan x="2570" y="2136">-</tspan><tspan x="2594">m_nMask</tspan><tspan x="2570" y="2157">+</tspan><tspan x="2594">HashTable()</tspan><tspan x="2570" y="2177">+</tspan><tspan x="2594">HashTable()</tspan><tspan x="2570" y="2197">+</tspan><tspan x="2594">HashTable()</tspan><tspan x="2570" y="2217">+</tspan><tspan x="2594">clear()</tspan><tspan x="2570" y="2237">+</tspan><tspan x="2594">~HashTable()</tspan><tspan x="2570" y="2257">+</tspan><tspan x="2594">contains()</tspan><tspan x="2570" y="2277">+</tspan><tspan x="2594">lookup()</tspan><tspan x="2570" y="2297">+</tspan><tspan x="2594">lookup()</tspan><tspan x="2570" y="2317">+</tspan><tspan x="2594">getNth()</tspan><tspan x="2570" y="2337">+</tspan><tspan x="2594">insert()</tspan><tspan x="2594" y="2357">and 12 more...</tspan><tspan x="2570" y="2377">-</tspan><tspan x="2594">getFirstSetBucket()</tspan><tspan x="2570" y="2397">-</tspan><tspan x="2594">check()</tspan><tspan x="2570" y="2417">-</tspan><tspan x="2594">rehash()</tspan><tspan x="2570" y="2437">-</tspan><tspan x="2594">nextIndex()</tspan><tspan x="2570" y="2457">-</tspan><tspan x="2594">findNextEmpty()</tspan><tspan x="2570" y="2477">-</tspan><tspan x="2594">findNextSet()</tspan><tspan x="2570" y="2497">-</tspan><tspan x="2594">findNextSet()</tspan><tspan x="2570" y="2517">-</tspan><tspan x="2594">doLookup()</tspan><tspan x="2570" y="2537">-</tspan><tspan x="2594">setDefaults()</tspan><tspan x="2570" y="2557">-</tspan><tspan x="2594">resetParents()</tspan></text></g>
<g id="n-objectpool-listnode"><rect class="bd" x="3139" y="1527" width="163" height="160"/><path class="bd" d="M3139,1566H3302M3139,1586H3302"/><text class="h" x="3220" y="1542">ObjectPool&lt; _ListNode<tspan x="3220" dy="15">_t, 16 &gt;</tspan></text>
<text><tspan x="3160" y="1599">+</tspan><tspan x="3183">ObjectPool()</tspan><tspan x="3160" y="1619">+</tspan><tspan x="3183">~ObjectPool()</tspan><tspan x="3160" y="1639">+</tspan><tspan x="3183">allocate()</tspan><tspan x="3160" y="1659">+</tspan><tspan x="3183">tryAllocate()</tspan><tspan x="3160" y="1679">+</tspan><tspan x="3183">deallocate()</tspan></text></g>
<g id="n-list"><rect class="bl" x="3135" y="2151" width="170" height="286"/><path class="bl" d="M3135,2175H3305M3135,2216H3305"/><text class="h" x="3220" y="2167">List&lt; T, nodePoolSize &gt;</text>
<text><tspan x="3158" y="2188">-</tspan><tspan x="3182">m_Count</tspan><tspan x="3158" y="2208">-</tspan><tspan x="3182">m_Magic</tspan><tspan x="3158" y="2229">+</tspan><tspan x="3182">List()</tspan><tspan x="3158" y="2249">+</tspan><tspan x="3182">List()</tspan><tspan x="3158" y="2269">+</tspan><tspan x="3182">~List()</tspan><tspan x="3158" y="2289">+</tspan><tspan x="3182">operator=()</tspan><tspan x="3158" y="2309">+</tspan><tspan x="3182">size()</tspan><tspan x="3158" y="2329">+</tspan><tspan x="3182">count()</tspan><tspan x="3158" y="2349">+</tspan><tspan x="3182">pushBack()</tspan><tspan x="3158" y="2369">+</tspan><tspan x="3182">pushBack()</tspan><tspan x="3158" y="2389">+</tspan><tspan x="3182">tryPushBack()</tspan><tspan x="3158" y="2409">+</tspan><tspan x="3182">tryPushBack()</tspan><tspan x="3182" y="2429">and 16 more...</tspan></text></g>
<g id="n-list-monitor"><rect class="bl" x="3200" y="3003" width="199" height="286"/><path class="bl" d="M3200,3027H3399M3200,3068H3399"/><text class="h" x="3299" y="3019">List&lt; File::MonitorTarget * &gt;</text>
<text><tspan x="3230" y="3040">-</tspan><tspan x="3261">m_Count</tspan><tspan x="3230" y="3060">-</tspan><tspan x="3261">m_Magic</tspan><tspan x="3230" y="3081">+</tspan><tspan x="3261">List()</tspan><tspan x="3230" y="3101">+</tspan><tspan x="3261">List()</tspan><tspan x="3230" y="3121">+</tspan><tspan x="3261">~List()</tspan><tspan x="3230" y="3141">+</tspan><tspan x="3261">operator=()</tspan><tspan x="3230" y="3161">+</tspan><tspan x="3261">size()</tspan><tspan x="3230" y="3181">+</tspan><tspan x="3261">count()</tspan><tspan x="3230" y="3201">+</tspan><tspan x="3261">pushBack()</tspan><tspan x="3230" y="3221">+</tspan><tspan x="3261">pushBack()</tspan><tspan x="3230" y="3241">+</tspan><tspan x="3261">tryPushBack()</tspan><tspan x="3230" y="3261">+</tspan><tspan x="3261">tryPushBack()</tspan><tspan x="3261" y="3281">and 16 more...</tspan></text></g>
<g id="n-string"><rect class="bd" x="819" y="2011" width="128" height="566"/><path class="bd" d="M819,2035H947M819,2116H947"/><text class="h" x="883" y="2027">String</text>
<text><tspan x="830" y="2048">-</tspan><tspan x="843">m_Data</tspan><tspan x="830" y="2068">-</tspan><tspan x="843">m_Length</tspan><tspan x="830" y="2088">-</tspan><tspan x="843">m_Size</tspan><tspan x="830" y="2108">-</tspan><tspan x="843">m_Hash</tspan><tspan x="830" y="2129">+</tspan><tspan x="843">String()</tspan><tspan x="830" y="2149">+</tspan><tspan x="843">String()</tspan><tspan x="830" y="2169">+</tspan><tspan x="843">String()</tspan><tspan x="830" y="2189">+</tspan><tspan x="843">String()</tspan><tspan x="830" y="2209">+</tspan><tspan x="843">String()</tspan><tspan x="830" y="2229">+</tspan><tspan x="843">String()</tspan><tspan x="830" y="2249">+</tspan><tspan x="843">String()</tspan><tspan x="830" y="2269">+</tspan><tspan x="843">String()</tspan><tspan x="830" y="2289">+</tspan><tspan x="843">~String()</tspan><tspan x="830" y="2309">+</tspan><tspan x="843">operator=()</tspan><tspan x="843" y="2329">and 50 more...</tspan><tspan x="830" y="2349">+</tspan><tspan x="843">Utf32ToUtf8()</tspan><tspan x="830" y="2369">#</tspan><tspan x="843">iswhitespace()</tspan><tspan x="830" y="2389">#</tspan><tspan x="843">reserve()</tspan><tspan x="830" y="2409">#</tspan><tspan x="843">computeHash()</tspan><tspan x="830" y="2429">#</tspan><tspan x="843">computeHash()</tspan><tspan x="830" y="2449">#</tspan><tspan x="843">setLength()</tspan><tspan x="830" y="2469">#</tspan><tspan x="843">setSize()</tspan><tspan x="830" y="2489">-</tspan><tspan x="843">maybeHash()</tspan><tspan x="830" y="2509">-</tspan><tspan x="843">extract()</tspan><tspan x="830" y="2529">-</tspan><tspan x="843">move()</tspan><tspan x="830" y="2549">-</tspan><tspan x="843">resizable()</tspan><tspan x="830" y="2569">-</tspan><tspan x="843">assignable()</tspan></text></g>
<g id="n-configspace"><rect class="bl" x="649" y="2162" width="145" height="265"/><path class="bl" d="M649,2186H794M649,2407H794"/><text class="h" x="721" y="2178">PciBus::ConfigSpace</text>
<text><tspan x="664" y="2199">+</tspan><tspan x="680">vendor</tspan><tspan x="664" y="2219">+</tspan><tspan x="680">device</tspan><tspan x="664" y="2239">+</tspan><tspan x="680">command</tspan><tspan x="664" y="2259">+</tspan><tspan x="680">status</tspan><tspan x="664" y="2279">+</tspan><tspan x="680">revision</tspan><tspan x="664" y="2299">+</tspan><tspan x="680">progif</tspan><tspan x="664" y="2319">+</tspan><tspan x="680">subclass</tspan><tspan x="664" y="2339">+</tspan><tspan x="680">class_code</tspan><tspan x="664" y="2359">+</tspan><tspan x="680">cache_line_size</tspan><tspan x="664" y="2379">+</tspan><tspan x="680">latency_timer</tspan><tspan x="680" y="2399">and 13 more...</tspan></text></g>
<g id="n-vector-address"><rect class="bo" x="972" y="2121" width="201" height="346"/><path class="bo" d="M972,2145H1173M972,2226H1173"/><text class="h" x="1072" y="2137">Vector&lt; Device::Address * &gt;</text>
<text><tspan x="998" y="2158">-</tspan><tspan x="1025">m_Size</tspan><tspan x="998" y="2178">-</tspan><tspan x="1025">m_Count</tspan><tspan x="998" y="2198">-</tspan><tspan x="1025">m_Start</tspan><tspan x="998" y="2218">-</tspan><tspan x="1025">m_ReserveFactor</tspan><tspan x="998" y="2239">+</tspan><tspan x="1025">Vector()</tspan><tspan x="998" y="2259">+</tspan><tspan x="1025">Vector()</tspan><tspan x="998" y="2279">+</tspan><tspan x="1025">Vector()</tspan><tspan x="998" y="2299">+</tspan><tspan x="1025">~Vector()</tspan><tspan x="998" y="2319">+</tspan><tspan x="1025">operator=()</tspan><tspan x="998" y="2339">+</tspan><tspan x="1025">operator[]()</tspan><tspan x="998" y="2359">+</tspan><tspan x="1025">operator[]()</tspan><tspan x="998" y="2379">+</tspan><tspan x="1025">size()</tspan><tspan x="998" y="2399">+</tspan><tspan x="1025">count()</tspan><tspan x="998" y="2419">+</tspan><tspan x="1025">pushBack()</tspan><tspan x="1025" y="2439">and 25 more...</tspan><tspan x="998" y="2459">-</tspan><tspan x="1025">reserve()</tspan></text></g>
<g id="n-device"><rect class="bd" x="943" y="2704" width="255" height="882"/><path class="bd" d="M943,2728H1198M943,2929H1198"/><text class="h" x="1070" y="2720">Device</text>
<text><tspan x="954" y="2741">#</tspan><tspan x="966">m_VirtualFunctionIndex</tspan><tspan x="954" y="2761">#</tspan><tspan x="966">m_InterruptNumber</tspan><tspan x="954" y="2781">#</tspan><tspan x="966">m_ClassCode</tspan><tspan x="954" y="2801">#</tspan><tspan x="966">m_SubclassCode</tspan><tspan x="954" y="2821">#</tspan><tspan x="966">m_VendorId</tspan><tspan x="954" y="2841">#</tspan><tspan x="966">m_DeviceId</tspan><tspan x="954" y="2861">#</tspan><tspan x="966">m_ProgInterface</tspan><tspan x="954" y="2881">#</tspan><tspan x="966">m_PciBusPos</tspan><tspan x="954" y="2901">#</tspan><tspan x="966">m_PciDevicePos</tspan><tspan x="954" y="2921">#</tspan><tspan x="966">m_PciFunctionNum</tspan>
<tspan x="954" y="2942">+</tspan><tspan x="966">Device()</tspan><tspan x="954" y="2962">+</tspan><tspan x="966">Device()</tspan><tspan x="954" y="2982">+</tspan><tspan x="966">~Device()</tspan><tspan x="954" y="3002">+</tspan><tspan x="966">getParent()</tspan><tspan x="954" y="3022">+</tspan><tspan x="966">setParent()</tspan><tspan x="954" y="3042">+</tspan><tspan x="966">getName()</tspan><tspan x="954" y="3062">+</tspan><tspan x="966">getType()</tspan><tspan x="954" y="3082">+</tspan><tspan x="966">getSpecificType()</tspan><tspan x="954" y="3102">+</tspan><tspan x="966">setSpecificType()</tspan><tspan x="954" y="3122">+</tspan><tspan x="966">setPciPosition()</tspan><tspan x="966" y="3142">and 24 more...</tspan><tspan x="954" y="3162">+</tspan><tspan x="966">treeLockHeldByCurrentThread()</tspan><tspan x="954" y="3182">+</tspan><tspan x="966">foreach()</tspan><tspan x="954" y="3202">+</tspan><tspan x="966">foreach()</tspan><tspan x="954" y="3222">+</tspan><tspan x="966">addToRoot()</tspan><tspan x="954" y="3242">+</tspan><tspan x="966">searchByVendorId()</tspan><tspan x="954" y="3262">+</tspan><tspan x="966">searchByVendorIdAndDeviceId()</tspan><tspan x="954" y="3282">+</tspan><tspan x="966">searchByClass()</tspan><tspan x="954" y="3302">+</tspan><tspan x="966">searchByClassAndSubclass()</tspan><tspan x="954" y="3322">+</tspan><tspan x="966">searchByClassSubclassAnd</tspan><tspan x="966" y="3336">ProgInterface()</tspan><tspan x="954" y="3356">#</tspan><tspan x="966">NOT_COPYABLE_OR_ASSIGNABLE()</tspan><tspan x="954" y="3376">#</tspan><tspan x="966">root()</tspan><tspan x="954" y="3396">-</tspan><tspan x="966">removeIoMappings()</tspan><tspan x="954" y="3416">-</tspan><tspan x="966">foreachInternal()</tspan><tspan x="954" y="3436">-</tspan><tspan x="966">foreachInternal()</tspan><tspan x="954" y="3456">-</tspan><tspan x="966">searchByVendorIdInternal()</tspan><tspan x="954" y="3476">-</tspan><tspan x="966">searchByVendorIdAndDevice</tspan><tspan x="966" y="3490">IdInternal()</tspan><tspan x="954" y="3510">-</tspan><tspan x="966">searchByClassInternal()</tspan><tspan x="954" y="3530">-</tspan><tspan x="966">searchByClassAndSubclass</tspan><tspan x="966" y="3544">Internal()</tspan><tspan x="954" y="3564">-</tspan><tspan x="966">searchByClassSubclassAnd</tspan><tspan x="966" y="3578">ProgInterfaceInternal()</tspan></text></g>
<g id="n-disk"><rect class="bd" x="904" y="3651" width="192" height="386"/><path class="bd" d="M904,3675H1096M904,3736H1096"/><text class="h" x="1000" y="3667">Disk</text>
<text><tspan x="914" y="3688">+</tspan><tspan x="927">MaxReadBuffers</tspan><tspan x="914" y="3708">+</tspan><tspan x="927">MaxWriteBuffers</tspan><tspan x="914" y="3728">+</tspan><tspan x="927">MaxSyncPages</tspan><tspan x="914" y="3749">+</tspan><tspan x="927">Disk()</tspan><tspan x="914" y="3769">+</tspan><tspan x="927">Disk()</tspan><tspan x="914" y="3789">+</tspan><tspan x="927">~Disk()</tspan><tspan x="914" y="3809">+</tspan><tspan x="927">physicalDisk()</tspan><tspan x="914" y="3829">+</tspan><tspan x="927">acquireUse()</tspan><tspan x="914" y="3849">+</tspan><tspan x="927">endpointId()</tspan><tspan x="914" y="3869">+</tspan><tspan x="927">getPartitionUuid()</tspan><tspan x="914" y="3889">+</tspan><tspan x="927">getPartitionLabel()</tspan><tspan x="914" y="3909">+</tspan><tspan x="927">preparePagingTransport()</tspan><tspan x="914" y="3929">+</tspan><tspan x="927">retireEndpoint()</tspan><tspan x="927" y="3949">and 30 more...</tspan><tspan x="914" y="3969">#</tspan><tspan x="927">reserveEndpoint()</tspan><tspan x="914" y="3989">#</tspan><tspan x="927">publishEndpoint()</tspan><tspan x="914" y="4009">#</tspan><tspan x="927">acquireView()</tspan><tspan x="914" y="4029">#</tspan><tspan x="927">releaseView()</tspan></text></g>
<g id="n-vector-device"><rect class="bo" x="1119" y="3671" width="143" height="346"/><path class="bo" d="M1119,3695H1262M1119,3776H1262"/><text class="h" x="1190" y="3687">Vector&lt; Device * &gt;</text>
<text><tspan x="1130" y="3708">-</tspan><tspan x="1143">m_Size</tspan><tspan x="1130" y="3728">-</tspan><tspan x="1143">m_Count</tspan><tspan x="1130" y="3748">-</tspan><tspan x="1143">m_Start</tspan><tspan x="1130" y="3768">-</tspan><tspan x="1143">m_ReserveFactor</tspan><tspan x="1130" y="3789">+</tspan><tspan x="1143">Vector()</tspan><tspan x="1130" y="3809">+</tspan><tspan x="1143">Vector()</tspan><tspan x="1130" y="3829">+</tspan><tspan x="1143">Vector()</tspan><tspan x="1130" y="3849">+</tspan><tspan x="1143">~Vector()</tspan><tspan x="1130" y="3869">+</tspan><tspan x="1143">operator=()</tspan><tspan x="1130" y="3889">+</tspan><tspan x="1143">operator[]()</tspan><tspan x="1130" y="3909">+</tspan><tspan x="1143">operator[]()</tspan><tspan x="1130" y="3929">+</tspan><tspan x="1143">size()</tspan><tspan x="1130" y="3949">+</tspan><tspan x="1143">count()</tspan><tspan x="1130" y="3969">+</tspan><tspan x="1143">pushBack()</tspan><tspan x="1143" y="3989">and 25 more...</tspan><tspan x="1130" y="4009">-</tspan><tspan x="1143">reserve()</tspan></text></g>
<g id="n-pagingtransport"><rect class="bd" x="1286" y="3791" width="153" height="105"/><path class="bd" d="M1286,3815H1439M1286,3835H1439"/><text class="h" x="1362" y="3807">PagingTransport</text>
<text><tspan x="1296" y="3848">+</tspan><tspan x="1309">transfer()</tspan><tspan x="1296" y="3868">+</tspan><tspan x="1309">release()</tspan><tspan x="1296" y="3888">#</tspan><tspan x="1309">~PagingTransport()</tspan></text></g>
<g id="n-sp-control"><rect class="bd" x="503" y="3793" width="142" height="100"/><path class="bd" d="M503,3832H645M503,3873H645"/><text class="h" x="574" y="3808">SharedPointer&lt; T &gt;<tspan x="574" dy="15">::Control</tspan></text>
<text><tspan x="528" y="3845">+</tspan><tspan x="556">ptr</tspan><tspan x="528" y="3865">+</tspan><tspan x="556">refcount</tspan></text></g>
<g id="n-sp"><rect class="bd" x="503" y="4099" width="142" height="345"/><path class="bd" d="M503,4123H645M503,4143H645"/><text class="h" x="574" y="4115">SharedPointer&lt; T &gt;</text>
<text><tspan x="513" y="4156">+</tspan><tspan x="526">SharedPointer()</tspan><tspan x="513" y="4176">+</tspan><tspan x="526">SharedPointer()</tspan><tspan x="513" y="4196">+</tspan><tspan x="526">SharedPointer()</tspan><tspan x="513" y="4216">+</tspan><tspan x="526">~SharedPointer()</tspan><tspan x="513" y="4236">+</tspan><tspan x="526">SharedPointer()</tspan><tspan x="513" y="4256">+</tspan><tspan x="526">reset()</tspan><tspan x="513" y="4276">+</tspan><tspan x="526">reset()</tspan><tspan x="513" y="4296">+</tspan><tspan x="526">get()</tspan><tspan x="513" y="4316">+</tspan><tspan x="526">operator-&gt;()</tspan><tspan x="513" y="4336">+</tspan><tspan x="526">operator*()</tspan><tspan x="526" y="4356">and 11 more...</tspan><tspan x="513" y="4376">+</tspan><tspan x="526">allocate()</tspan><tspan x="513" y="4396">+</tspan><tspan x="526">tryAllocate()</tspan><tspan x="513" y="4416">+</tspan><tspan x="526">tryAdopt()</tspan><tspan x="513" y="4436">-</tspan><tspan x="526">release()</tspan></text></g>
<g id="n-diskendpoint"><rect class="bl" x="1110" y="4162" width="101" height="225"/><path class="bl" d="M1110,4186H1211M1110,4367H1211"/><text class="h" x="1160" y="4178">DiskEndpoint</text>
<text><tspan x="1121" y="4199">+</tspan><tspan x="1136">id</tspan><tspan x="1121" y="4219">+</tspan><tspan x="1136">users</tspan><tspan x="1121" y="4239">+</tspan><tspan x="1136">transfers</tspan><tspan x="1121" y="4259">+</tspan><tspan x="1136">published</tspan><tspan x="1121" y="4279">+</tspan><tspan x="1136">retiring</tspan><tspan x="1121" y="4299">+</tspan><tspan x="1136">removal</tspan><tspan x="1121" y="4319">+</tspan><tspan x="1136">preparing</tspan><tspan x="1121" y="4339">+</tspan><tspan x="1136">closing</tspan><tspan x="1121" y="4359">+</tspan><tspan x="1136">bytes</tspan></text></g>
<g id="n-sp-readiness"><rect class="bd" x="333" y="4507" width="186" height="360"/><path class="bd" d="M333,4546H519M333,4566H519"/><text class="h" x="426" y="4522">SharedPointer&lt; Readiness<tspan x="426" dy="15">State &gt;</tspan></text>
<text><tspan x="354" y="4579">+</tspan><tspan x="378">SharedPointer()</tspan><tspan x="354" y="4599">+</tspan><tspan x="378">SharedPointer()</tspan><tspan x="354" y="4619">+</tspan><tspan x="378">SharedPointer()</tspan><tspan x="354" y="4639">+</tspan><tspan x="378">SharedPointer()</tspan><tspan x="354" y="4659">+</tspan><tspan x="378">~SharedPointer()</tspan><tspan x="354" y="4679">+</tspan><tspan x="378">reset()</tspan><tspan x="354" y="4699">+</tspan><tspan x="378">reset()</tspan><tspan x="354" y="4719">+</tspan><tspan x="378">get()</tspan><tspan x="354" y="4739">+</tspan><tspan x="378">operator-&gt;()</tspan><tspan x="354" y="4759">+</tspan><tspan x="378">operator*()</tspan><tspan x="378" y="4779">and 11 more...</tspan><tspan x="354" y="4799">+</tspan><tspan x="378">allocate()</tspan><tspan x="354" y="4819">+</tspan><tspan x="378">tryAllocate()</tspan><tspan x="354" y="4839">+</tspan><tspan x="378">tryAdopt()</tspan><tspan x="354" y="4859">-</tspan><tspan x="378">release()</tspan></text></g>
<g id="n-sp-fileevent"><rect class="bd" x="633" y="4507" width="180" height="360"/><path class="bd" d="M633,4546H813M633,4566H813"/><text class="h" x="723" y="4522">SharedPointer&lt; FileEvent<tspan x="723" dy="15">State &gt;</tspan></text>
<text><tspan x="654" y="4579">+</tspan><tspan x="675">SharedPointer()</tspan><tspan x="654" y="4599">+</tspan><tspan x="675">SharedPointer()</tspan><tspan x="654" y="4619">+</tspan><tspan x="675">SharedPointer()</tspan><tspan x="654" y="4639">+</tspan><tspan x="675">SharedPointer()</tspan><tspan x="654" y="4659">+</tspan><tspan x="675">~SharedPointer()</tspan><tspan x="654" y="4679">+</tspan><tspan x="675">reset()</tspan><tspan x="654" y="4699">+</tspan><tspan x="675">reset()</tspan><tspan x="654" y="4719">+</tspan><tspan x="675">get()</tspan><tspan x="654" y="4739">+</tspan><tspan x="675">operator-&gt;()</tspan><tspan x="654" y="4759">+</tspan><tspan x="675">operator*()</tspan><tspan x="675" y="4779">and 11 more...</tspan><tspan x="654" y="4799">+</tspan><tspan x="675">allocate()</tspan><tspan x="654" y="4819">+</tspan><tspan x="675">tryAllocate()</tspan><tspan x="654" y="4839">+</tspan><tspan x="675">tryAdopt()</tspan><tspan x="654" y="4859">-</tspan><tspan x="675">release()</tspan></text></g>
<g id="n-pagingchannel"><rect class="bd" x="1063" y="4544" width="145" height="286"/><path class="bd" d="M1063,4568H1208M1063,4589H1208"/><text class="h" x="1135" y="4560">PagingChannel</text>
<text><tspan x="1073" y="4581">+</tspan><tspan x="1086">PageBytes</tspan><tspan x="1073" y="4602">+</tspan><tspan x="1086">PagingChannel()</tspan><tspan x="1073" y="4622">+</tspan><tspan x="1086">~PagingChannel()</tspan><tspan x="1073" y="4642">+</tspan><tspan x="1086">PagingChannel()</tspan><tspan x="1073" y="4662">+</tspan><tspan x="1086">operator=()</tspan><tspan x="1073" y="4682">+</tspan><tspan x="1086">readPage()</tspan><tspan x="1073" y="4702">+</tspan><tspan x="1086">writePage()</tspan><tspan x="1073" y="4722">+</tspan><tspan x="1086">flush()</tspan><tspan x="1073" y="4742">+</tspan><tspan x="1086">reset()</tspan><tspan x="1073" y="4762">+</tspan><tspan x="1086">endpointId()</tspan><tspan x="1073" y="4782">+</tspan><tspan x="1086">size()</tspan><tspan x="1073" y="4802">+</tspan><tspan x="1086">operator bool()</tspan><tspan x="1073" y="4822">-</tspan><tspan x="1086">transfer()</tspan></text></g>
<g id="n-diskuse"><rect class="bd" x="1257" y="4574" width="125" height="225"/><path class="bd" d="M1257,4598H1382M1257,4618H1382"/><text class="h" x="1319" y="4590">DiskUse</text>
<text><tspan x="1267" y="4631">+</tspan><tspan x="1280">DiskUse()</tspan><tspan x="1267" y="4651">+</tspan><tspan x="1280">DiskUse()</tspan><tspan x="1267" y="4671">+</tspan><tspan x="1280">~DiskUse()</tspan><tspan x="1267" y="4691">+</tspan><tspan x="1280">operator=()</tspan><tspan x="1267" y="4711">+</tspan><tspan x="1280">reset()</tspan><tspan x="1267" y="4731">+</tspan><tspan x="1280">get()</tspan><tspan x="1267" y="4751">+</tspan><tspan x="1280">operator bool()</tspan><tspan x="1267" y="4771">-</tspan><tspan x="1280">DiskUse()</tspan><tspan x="1267" y="4791">-</tspan><tspan x="1280">operator=()</tspan></text></g>
<g id="n-readinesssource"><rect class="bd" x="405" y="5089" width="180" height="205"/><path class="bd" d="M405,5113H585M405,5133H585"/><text class="h" x="495" y="5105">ReadinessSource</text>
<text><tspan x="415" y="5146">+</tspan><tspan x="428">ReadinessSource()</tspan><tspan x="415" y="5166">+</tspan><tspan x="428">~ReadinessSource()</tspan><tspan x="415" y="5186">+</tspan><tspan x="428">subscribeReadiness()</tspan><tspan x="415" y="5206">+</tspan><tspan x="428">readinessGenerations()</tspan><tspan x="415" y="5226">#</tspan><tspan x="428">notifyReadiness()</tspan><tspan x="415" y="5246">#</tspan><tspan x="428">closeReadiness()</tspan><tspan x="415" y="5266">-</tspan><tspan x="428">ReadinessSource()</tspan><tspan x="415" y="5286">-</tspan><tspan x="428">operator=()</tspan></text></g>
<g id="n-fileeventsource"><rect class="bd" x="635" y="5049" width="189" height="285"/><path class="bd" d="M635,5073H824M635,5093H824"/><text class="h" x="729" y="5065">FileEventSource</text>
<text><tspan x="645" y="5106">+</tspan><tspan x="658">FileEventSource()</tspan><tspan x="645" y="5126">+</tspan><tspan x="658">~FileEventSource()</tspan><tspan x="645" y="5146">+</tspan><tspan x="658">subscribeFileEvents()</tspan><tspan x="645" y="5166">#</tspan><tspan x="658">hasFileEventObservers()</tspan><tspan x="645" y="5186">#</tspan><tspan x="658">notifyFileEvent()</tspan><tspan x="645" y="5206">#</tspan><tspan x="658">notifyFinalFileEvent()</tspan><tspan x="645" y="5226">#</tspan><tspan x="658">beginFinalFileEvent()</tspan><tspan x="645" y="5246">#</tspan><tspan x="658">drainFileEvents()</tspan><tspan x="645" y="5266">#</tspan><tspan x="658">closeFileEvents()</tspan><tspan x="645" y="5286">#</tspan><tspan x="658">anyFileEventObservers()</tspan><tspan x="645" y="5306">-</tspan><tspan x="658">FileEventSource()</tspan><tspan x="645" y="5326">-</tspan><tspan x="658">operator=()</tspan></text></g>
<g id="n-filesystem"><rect class="bd" x="1247" y="4929" width="144" height="526"/><path class="bd" d="M1247,4953H1391M1247,4974H1391"/><text class="h" x="1319" y="4945">Filesystem</text>
<text><tspan x="1257" y="4966">#</tspan><tspan x="1270">m_bReadOnly</tspan><tspan x="1257" y="4987">+</tspan><tspan x="1270">Filesystem()</tspan><tspan x="1257" y="5007">+</tspan><tspan x="1270">~Filesystem()</tspan><tspan x="1257" y="5027">+</tspan><tspan x="1270">initialise()</tspan><tspan x="1257" y="5047">+</tspan><tspan x="1270">find()</tspan><tspan x="1257" y="5067">+</tspan><tspan x="1270">find()</tspan><tspan x="1257" y="5087">+</tspan><tspan x="1270">find()</tspan><tspan x="1257" y="5107">+</tspan><tspan x="1270">find()</tspan><tspan x="1257" y="5127">+</tspan><tspan x="1270">findRetained()</tspan><tspan x="1257" y="5147">+</tspan><tspan x="1270">getRoot()</tspan><tspan x="1257" y="5167">+</tspan><tspan x="1270">getVolumeLabel()</tspan><tspan x="1270" y="5187">and 18 more...</tspan><tspan x="1257" y="5207">#</tspan><tspan x="1270">createFile()</tspan><tspan x="1257" y="5227">#</tspan><tspan x="1270">createDirectory()</tspan><tspan x="1257" y="5247">#</tspan><tspan x="1270">createSymlink()</tspan><tspan x="1257" y="5267">#</tspan><tspan x="1270">createLink()</tspan><tspan x="1257" y="5287">#</tspan><tspan x="1270">removeNode()</tspan><tspan x="1257" y="5307">#</tspan><tspan x="1270">renameNode()</tspan><tspan x="1257" y="5327">-</tspan><tspan x="1270">removeChild()</tspan><tspan x="1257" y="5347">-</tspan><tspan x="1270">renameChildren()</tspan><tspan x="1257" y="5367">-</tspan><tspan x="1270">findNode()</tspan><tspan x="1257" y="5387">-</tspan><tspan x="1270">findNode()</tspan><tspan x="1257" y="5407">-</tspan><tspan x="1270">findParent()</tspan><tspan x="1257" y="5427">-</tspan><tspan x="1270">Filesystem()</tspan><tspan x="1257" y="5447">-</tspan><tspan x="1270">operator=()</tspan></text></g>
<g id="n-file"><rect class="bd" x="1213" y="5517" width="213" height="986"/><path class="bd" d="M1213,5541H1426M1213,5842H1426"/><text class="h" x="1319" y="5533">File</text>
<text><tspan x="1223" y="5554">+</tspan><tspan x="1236">MaxReadPages</tspan><tspan x="1223" y="5574">#</tspan><tspan x="1236">m_AccessedTime</tspan><tspan x="1223" y="5594">#</tspan><tspan x="1236">m_ModifiedTime</tspan><tspan x="1223" y="5614">#</tspan><tspan x="1236">m_CreationTime</tspan><tspan x="1223" y="5634">#</tspan><tspan x="1236">m_Inode</tspan><tspan x="1223" y="5654">#</tspan><tspan x="1236">m_FutexIdentity</tspan><tspan x="1223" y="5674">#</tspan><tspan x="1236">m_Size</tspan><tspan x="1223" y="5694">#</tspan><tspan x="1236">m_bDetachedParentHandled</tspan><tspan x="1223" y="5714">#</tspan><tspan x="1236">m_nWriters</tspan><tspan x="1223" y="5734">#</tspan><tspan x="1236">m_nReaders</tspan><tspan x="1223" y="5754">#</tspan><tspan x="1236">m_Uid</tspan><tspan x="1223" y="5774">#</tspan><tspan x="1236">m_Gid</tspan><tspan x="1223" y="5794">#</tspan><tspan x="1236">m_Permissions</tspan><tspan x="1223" y="5814">#</tspan><tspan x="1236">m_bDirect</tspan><tspan x="1223" y="5834">#</tspan><tspan x="1236">m_PhysicalPageLoans</tspan>
<tspan x="1223" y="5855">+</tspan><tspan x="1236">File()</tspan><tspan x="1223" y="5875">+</tspan><tspan x="1236">File()</tspan><tspan x="1223" y="5895">+</tspan><tspan x="1236">~File()</tspan><tspan x="1223" y="5915">+</tspan><tspan x="1236">read()</tspan><tspan x="1223" y="5935">+</tspan><tspan x="1236">readCached()</tspan><tspan x="1223" y="5955">+</tspan><tspan x="1236">write()</tspan><tspan x="1223" y="5975">+</tspan><tspan x="1236">append()</tspan><tspan x="1223" y="5995">+</tspan><tspan x="1236">lockWrites()</tspan><tspan x="1223" y="6015">+</tspan><tspan x="1236">getPhysicalPage()</tspan><tspan x="1223" y="6035">+</tspan><tspan x="1236">isDirectPhysicalMapping()</tspan><tspan x="1236" y="6055">and 82 more...</tspan><tspan x="1223" y="6075">#</tspan><tspan x="1236">updateAttributes()</tspan><tspan x="1223" y="6095">#</tspan><tspan x="1236">changeOwnership()</tspan><tspan x="1223" y="6115">#</tspan><tspan x="1236">allowPhysicalPage()</tspan><tspan x="1223" y="6135">#</tspan><tspan x="1236">prepareWrite()</tspan><tspan x="1223" y="6155">#</tspan><tspan x="1236">allowResize()</tspan><tspan x="1223" y="6175">#</tspan><tspan x="1236">prepareShrink()</tspan><tspan x="1223" y="6195">#</tspan><tspan x="1236">resizeFile()</tspan><tspan x="1223" y="6215">#</tspan><tspan x="1236">allocateFileRange()</tspan><tspan x="1223" y="6235">#</tspan><tspan x="1236">writeSerializationLock()</tspan><tspan x="1223" y="6255">#</tspan><tspan x="1236">dataMutationLock()</tspan><tspan x="1236" y="6275">and 30 more...</tspan><tspan x="1223" y="6295">#</tspan><tspan x="1236">writeCallback()</tspan><tspan x="1223" y="6315">#</tspan><tspan x="1236">fillCacheCallback()</tspan><tspan x="1223" y="6335">-</tspan><tspan x="1236">File()</tspan><tspan x="1223" y="6355">-</tspan><tspan x="1236">operator=()</tspan><tspan x="1223" y="6375">-</tspan><tspan x="1236">publishWriteMetadata()</tspan><tspan x="1223" y="6395">-</tspan><tspan x="1236">writeUnlocked()</tspan><tspan x="1223" y="6415">-</tspan><tspan x="1236">getCachedPage()</tspan><tspan x="1223" y="6435">-</tspan><tspan x="1236">setCachedPage()</tspan><tspan x="1223" y="6455">-</tspan><tspan x="1236">readIntoCache()</tspan><tspan x="1223" y="6475">-</tspan><tspan x="1236">populateRangeLocked()</tspan><tspan x="1223" y="6495">-</tspan><tspan x="1236">releaseReadReference()</tspan></text></g>
<g id="n-trackedfile"><rect class="bt" x="1260" y="6595" width="119" height="86"/><path class="bt" d="M1260,6619H1379M1260,6640H1379"/><text class="h" x="1319" y="6611">VFS::TrackedFile</text>
<text><tspan x="1273" y="6632">+</tspan><tspan x="1288">owners</tspan><tspan x="1273" y="6653">+</tspan><tspan x="1288">TrackedFile()</tspan><tspan x="1273" y="6673">+</tspan><tspan x="1288">retain()</tspan></text></g>
<g id="n-rcupointer"><rect class="bl" x="1403" y="6565" width="256" height="146"/><path class="bl" d="M1403,6589H1659M1403,6610H1659"/><text class="h" x="1531" y="6581">RcuPointer&lt; T &gt;</text>
<text><tspan x="1413" y="6602">-</tspan><tspan x="1426">m_Pointer</tspan><tspan x="1413" y="6623">+</tspan><tspan x="1426">RcuPointer()</tspan><tspan x="1413" y="6643">+</tspan><tspan x="1426">NOT_COPYABLE_OR_ASSIGNABLE()</tspan><tspan x="1413" y="6663">+</tspan><tspan x="1426">load()</tspan><tspan x="1413" y="6683">+</tspan><tspan x="1426">loadForUpdate()</tspan><tspan x="1413" y="6703">+</tspan><tspan x="1426">exchange()</tspan></text></g>
<g id="n-rcupointer-tracked"><rect class="bl" x="1298" y="6773" width="256" height="160"/><path class="bl" d="M1298,6812H1554M1298,6832H1554"/><text class="h" x="1426" y="6788">RcuPointer&lt; VFS::Tracked<tspan x="1426" dy="15">File &gt;</tspan></text>
<text><tspan x="1308" y="6845">+</tspan><tspan x="1321">RcuPointer()</tspan><tspan x="1308" y="6865">+</tspan><tspan x="1321">NOT_COPYABLE_OR_ASSIGNABLE()</tspan><tspan x="1308" y="6885">+</tspan><tspan x="1321">load()</tspan><tspan x="1308" y="6905">+</tspan><tspan x="1321">loadForUpdate()</tspan><tspan x="1308" y="6925">+</tspan><tspan x="1321">exchange()</tspan></text></g>
<g id="n-cachestate"><rect class="bl" x="1688" y="3103" width="171" height="86"/><path class="bl" d="M1688,3127H1859M1688,3168H1859"/><text class="h" x="1773" y="3119">File::CacheState</text>
<text><tspan x="1698" y="3140">+</tspan><tspan x="1711">executableMappings</tspan><tspan x="1698" y="3160">+</tspan><tspan x="1711">sharedWriteMappings</tspan><tspan x="1698" y="3181">+</tspan><tspan x="1711">CacheState()</tspan></text></g>
</svg>
